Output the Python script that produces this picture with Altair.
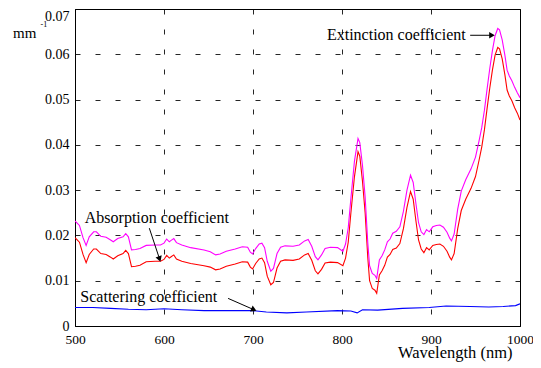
import altair as alt
import pandas as pd

# Absorption coefficient (red) and extinction coefficient (magenta)
wl_ae = [500, 505, 509, 512.5, 516, 521, 524, 529, 535, 540, 543, 548, 554, 557, 560, 563.5, 568, 573,
         580, 590, 596, 600, 603, 606, 608, 611, 614, 620, 630, 645, 652, 658, 663, 670, 680, 688, 694,
         697, 699.5, 703, 707, 710, 713, 716, 720, 723, 727, 731, 736, 745, 752, 758, 762, 766, 770, 773,
         777, 781, 787, 795, 801, 804, 807, 810, 814, 818, 820, 823, 826, 829, 831, 834, 837, 839, 842,
         845, 848, 851, 854, 857, 861, 865, 869, 873, 877, 880, 883, 886, 889, 892, 895, 898, 902, 906,
         910, 914, 918, 921, 923, 926, 930, 934, 939, 945, 950, 954, 957, 960, 963, 966, 969, 972, 975,
         977, 980, 983, 985.5, 988, 991, 994, 997, 1000]
absorption = [0.0195, 0.0185, 0.0158, 0.0140, 0.0158, 0.0170, 0.0170, 0.0160, 0.0158, 0.0152, 0.0148,
              0.0155, 0.0160, 0.0167, 0.0160, 0.0131, 0.0132, 0.0134, 0.0142, 0.0143, 0.0143, 0.0147,
              0.0156, 0.0150, 0.0153, 0.0157, 0.0148, 0.0143, 0.0138, 0.0133, 0.0130, 0.0124, 0.0126,
              0.0132, 0.0137, 0.0142, 0.0141, 0.0130, 0.0126, 0.0138, 0.0148, 0.0150, 0.0140, 0.0110,
              0.0091, 0.0096, 0.0128, 0.0143, 0.0146, 0.0145, 0.0148, 0.0157, 0.0160, 0.0145, 0.0122,
              0.0115, 0.0125, 0.0139, 0.0141, 0.0140, 0.0133, 0.0150, 0.0185, 0.0250, 0.0330, 0.0385,
              0.0375, 0.0320, 0.0250, 0.0150, 0.0100, 0.0083, 0.0079, 0.0072, 0.0113, 0.0122, 0.0134,
              0.0152, 0.0158, 0.0169, 0.0172, 0.0182, 0.0215, 0.0262, 0.0297, 0.0280, 0.0233, 0.0190,
              0.0170, 0.0162, 0.0173, 0.0168, 0.0178, 0.0180, 0.0181, 0.0176, 0.0165, 0.0152, 0.0146,
              0.0160, 0.0215, 0.0255, 0.0280, 0.0304, 0.0330, 0.0366, 0.0395, 0.0433, 0.0480, 0.0525,
              0.0565, 0.0598, 0.0615, 0.0612, 0.0590, 0.0555, 0.0521, 0.0508, 0.0497, 0.0482, 0.0470,
              0.0455]
extinction = [0.0232, 0.0222, 0.0195, 0.0178, 0.0197, 0.0208, 0.0208, 0.0198, 0.0196, 0.0190, 0.0186,
              0.0193, 0.0197, 0.0204, 0.0197, 0.0168, 0.0169, 0.0171, 0.0178, 0.0179, 0.0179, 0.0183,
              0.0192, 0.0186, 0.0189, 0.0193, 0.0184, 0.0179, 0.0173, 0.0168, 0.0164, 0.0157, 0.0159,
              0.0165, 0.0170, 0.0175, 0.0174, 0.0163, 0.0159, 0.0171, 0.0181, 0.0183, 0.0173, 0.0143,
              0.0121, 0.0127, 0.0160, 0.0174, 0.0177, 0.0176, 0.0179, 0.0188, 0.0191, 0.0176, 0.0153,
              0.0146, 0.0157, 0.0171, 0.0174, 0.0173, 0.0165, 0.0181, 0.0217, 0.0282, 0.0364, 0.0414,
              0.0405, 0.0355, 0.0285, 0.0183, 0.0133, 0.0116, 0.0112, 0.0105, 0.0146, 0.0155, 0.0168,
              0.0186, 0.0192, 0.0205, 0.0209, 0.0219, 0.0253, 0.0300, 0.0333, 0.0317, 0.0271, 0.0228,
              0.0208, 0.0202, 0.0213, 0.0208, 0.0219, 0.0222, 0.0223, 0.0218, 0.0207, 0.0194, 0.0188,
              0.0203, 0.0258, 0.0298, 0.0323, 0.0347, 0.0373, 0.0409, 0.0438, 0.0476, 0.0523, 0.0568,
              0.0608, 0.0641, 0.0657, 0.0654, 0.0632, 0.0598, 0.0565, 0.0552, 0.0541, 0.0527, 0.0515,
              0.0504]

# Scattering coefficient (blue)
wl_s = [500, 520, 540, 560, 580, 600, 620, 645, 670, 700, 715, 738, 760, 795, 810, 817, 823, 840, 868,
        898, 917, 944, 965, 981, 995, 1000]
scattering = [0.0041, 0.0041, 0.0039, 0.0037, 0.0036, 0.0038, 0.0036, 0.0034, 0.0034, 0.0034, 0.0031,
              0.0029, 0.0031, 0.0034, 0.0033, 0.0029, 0.0036, 0.0035, 0.0039, 0.0041, 0.0044, 0.0043,
              0.0042, 0.0043, 0.0045, 0.0049]

series_names = ["Absorption", "Extinction", "Scattering"]
series_colors = ["#ff0000", "#ff00ff", "#0000ff"]

x_ticks = [500, 600, 700, 800, 900, 1000]
y_ticks = [0, 0.01, 0.02, 0.03, 0.04, 0.05, 0.06, 0.07]

# annotations (data coordinates)
ann_text = ["Extinction coefficient", "Absorption coefficient", "Scattering coefficient"]
ann_x = [939, 511, 506]
ann_y = [0.0642, 0.0238, 0.0065]
ann_align = ["right", "left", "left"]
arrow_x = [944, 583.5, 672]
arrow_y = [0.0642, 0.0216, 0.0061]
arrow_x2 = [968.5, 595, 701]
arrow_y2 = [0.0642, 0.0148, 0.0036]
arrow_angle = [90, 161, 114]

rows = []
for w, a, e in zip(wl_ae, absorption, extinction):
    rows.append({"wl": w, "v": a, "s": "Absorption"})
    rows.append({"wl": w, "v": e, "s": "Extinction"})
for w, s in zip(wl_s, scattering):
    rows.append({"wl": w, "v": s, "s": "Scattering"})
df = pd.DataFrame(rows)

ann = pd.DataFrame({"t": ann_text, "x": ann_x, "y": ann_y, "align": ann_align})
arr = pd.DataFrame({"x": arrow_x, "y": arrow_y, "x2": arrow_x2, "y2": arrow_y2, "ang": arrow_angle})

FONT = "Liberation Serif, Times New Roman, serif"

xscale = alt.Scale(domain=[500, 1000], nice=False)
yscale = alt.Scale(domain=[0, 0.07], nice=False)

lines = alt.Chart(df).mark_line(strokeWidth=1.1, clip=True).encode(
    x=alt.X("wl:Q", scale=xscale,
            axis=alt.Axis(values=x_ticks, title="Wavelength (nm)", format="d", grid=True,
                          gridDash=[5, 15], gridColor="#000", gridOpacity=0.85,
                          ticks=False, tickSize=0, labelPadding=6, labelFontSize=13.5,
                          labelFont=FONT, labelColor="#000", titleFont=FONT, titleFontSize=16.5,
                          titleFontWeight="normal", titleColor="#000", titleAnchor="end",
                          titleAlign="right", titleX=437, titleY=31.5, titleBaseline="alphabetic",
                          domainColor="#000", labelFlush=False)),
    y=alt.Y("v:Q", scale=yscale,
            axis=alt.Axis(values=y_ticks, title=None, format=".2~f", grid=True,
                          gridDash=[5, 15], gridColor="#000", gridOpacity=0.85,
                          ticks=False, tickSize=0, labelPadding=6, labelFontSize=14,
                          labelFont=FONT, labelColor="#000", domainColor="#000", labelFlush=False,
                          labelBaseline={"condition": {"test": "datum.value >= 0.069", "value": "top"},
                                         "value": "middle"})),
    color=alt.Color("s:N", scale=alt.Scale(domain=series_names, range=series_colors), legend=None),
    order=alt.Order("wl:Q"),
    detail="s:N",
)

texts_right = alt.Chart(ann).transform_filter(alt.datum.align == "right").mark_text(
    font=FONT, fontSize=16, baseline="middle", align="right", color="#000").encode(
    x=alt.X("x:Q", scale=xscale), y=alt.Y("y:Q", scale=yscale), text="t:N")
texts_left = alt.Chart(ann).transform_filter(alt.datum.align == "left").mark_text(
    font=FONT, fontSize=16, baseline="middle", align="left", color="#000").encode(
    x=alt.X("x:Q", scale=xscale), y=alt.Y("y:Q", scale=yscale), text="t:N")

arrow_lines = alt.Chart(arr).mark_rule(color="#000", strokeWidth=1).encode(
    x=alt.X("x:Q", scale=xscale), y=alt.Y("y:Q", scale=yscale),
    x2="x2:Q", y2="y2:Q",
)
heads = alt.Chart(arr).mark_point(shape="triangle-up", filled=True, color="#000", size=42, opacity=1).encode(
    x=alt.X("x2:Q", scale=xscale), y=alt.Y("y2:Q", scale=yscale),
    angle=alt.Angle("ang:Q", scale=None),
)

unit_mm = alt.Chart(pd.DataFrame({"t": ["mm"]})).mark_text(
    font=FONT, fontSize=15, align="left", baseline="alphabetic", color="#000").encode(
    x=alt.value(-62), y=alt.value(28.5), text="t:N")
unit_exp = alt.Chart(pd.DataFrame({"t": ["-1"]})).mark_text(
    font=FONT, fontSize=8, align="left", baseline="alphabetic", color="#000").encode(
    x=alt.value(-34.5), y=alt.value(18), text="t:N")

chart = alt.layer(lines, arrow_lines, heads, texts_right, texts_left, unit_mm, unit_exp).properties(
    width=445, height=317,
    autosize=alt.AutoSizeParams(type="none"),
    padding={"left": 67, "top": 1, "right": 13, "bottom": 40},
    background="white",
).configure_view(stroke="#000", strokeWidth=1)

chart.save("out.html", embed_options={"renderer": "svg", "actions": False})
